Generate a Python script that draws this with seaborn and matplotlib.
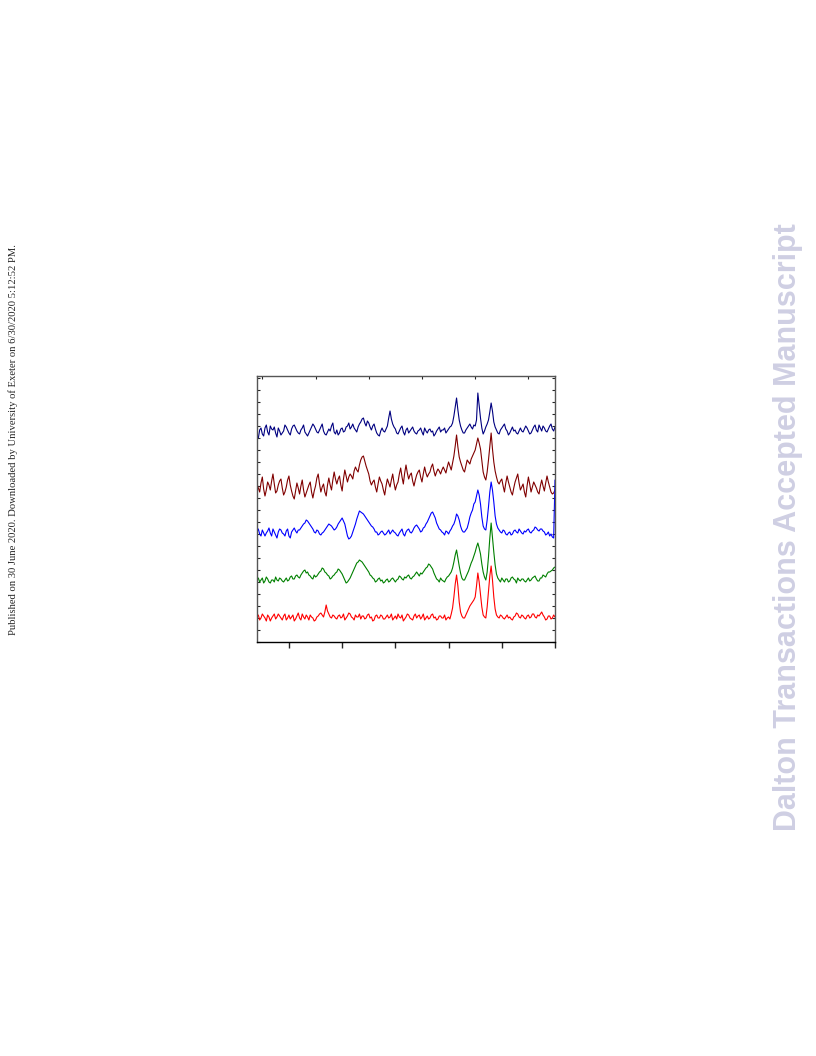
import numpy as np
import pandas as pd
import matplotlib
matplotlib.use("Agg")
import matplotlib.pyplot as plt
from matplotlib.ticker import MultipleLocator
import seaborn as sns

# x axis (2theta-like), sampled every 0.25 from 4 to 60
two_theta = np.arange(4.0, 60.001, 0.25)

# stacked traces, heights (top trace first)
navy = [206, 204, 212, 214, 208, 206, 214, 217, 210, 207, 216, 213, 212, 215, 209, 205, 214, 211, 207, 209,
        211, 217, 215, 212, 209, 207, 213, 216, 217, 214, 211, 209, 208, 212, 214, 217, 210, 208, 206, 209,
        212, 215, 218, 216, 213, 210, 209, 212, 215, 218, 211, 208, 207, 210, 213, 211, 216, 219, 210, 208,
        212, 207, 209, 213, 214, 210, 211, 215, 216, 219, 213, 215, 218, 214, 212, 210, 215, 218, 220, 223,
        224, 219, 216, 221, 219, 215, 212, 216, 218, 213, 209, 207, 206, 211, 214, 211, 210, 213, 216, 224,
        231, 223, 218, 215, 213, 209, 208, 211, 214, 216, 210, 207, 212, 214, 209, 211, 213, 215, 211, 209,
        208, 211, 212, 214, 210, 207, 214, 211, 209, 212, 213, 210, 211, 206, 208, 211, 213, 215, 210, 212,
        212, 214, 209, 211, 213, 215, 216, 219, 226, 235, 244, 232, 222, 216, 212, 209, 209, 212, 214, 216,
        218, 215, 213, 217, 216, 222, 249, 236, 224, 214, 208, 211, 215, 218, 222, 230, 239, 231, 220, 215,
        212, 209, 208, 212, 214, 216, 218, 213, 211, 207, 209, 212, 215, 211, 212, 209, 208, 211, 214, 211,
        210, 213, 216, 214, 211, 208, 209, 212, 215, 217, 212, 210, 217, 214, 211, 216, 214, 211, 210, 213,
        216, 218, 213, 211, 215]
darkred = [158, 154, 150, 159, 165, 153, 146, 152, 160, 157, 152, 161, 168, 158, 149, 151, 157, 161, 163, 154,
           147, 150, 155, 162, 166, 157, 151, 146, 143, 151, 159, 154, 148, 156, 162, 152, 145, 149, 153, 157,
           160, 150, 144, 151, 156, 164, 168, 158, 150, 155, 158, 150, 146, 157, 164, 157, 152, 162, 170, 163,
           158, 163, 166, 157, 151, 163, 172, 166, 160, 165, 168, 166, 163, 171, 175, 172, 170, 177, 182, 185,
           186, 181, 176, 172, 168, 161, 157, 160, 162, 155, 150, 158, 165, 161, 158, 152, 147, 156, 163, 159,
           155, 162, 168, 159, 152, 157, 160, 168, 174, 165, 158, 169, 177, 169, 163, 167, 169, 161, 156, 162,
           167, 170, 172, 165, 160, 168, 175, 169, 165, 168, 170, 175, 178, 171, 166, 170, 173, 171, 168, 172,
           175, 172, 169, 175, 180, 176, 172, 179, 186, 196, 207, 195, 185, 180, 176, 172, 170, 176, 182, 180,
           178, 183, 186, 189, 192, 198, 204, 199, 193, 181, 170, 165, 162, 170, 182, 196, 209, 193, 180, 171,
           165, 160, 158, 161, 163, 156, 150, 159, 166, 160, 155, 150, 147, 154, 160, 164, 168, 159, 152, 155,
           158, 150, 145, 156, 165, 158, 150, 155, 160, 157, 154, 150, 148, 156, 162, 156, 151, 159, 166, 160,
           155, 150, 148, 149, 152]
blue = [110, 113, 108, 106, 112, 109, 106, 109, 111, 114, 109, 106, 113, 110, 107, 104, 110, 113, 112, 109,
        108, 106, 111, 113, 106, 104, 110, 112, 114, 111, 109, 112, 112, 114, 116, 118, 119, 122, 121, 119,
        117, 115, 113, 110, 109, 112, 111, 108, 107, 109, 110, 112, 114, 116, 118, 117, 116, 114, 112, 113,
        115, 118, 120, 122, 124, 121, 118, 112, 106, 103, 104, 106, 110, 114, 118, 123, 127, 131, 130, 129,
        128, 126, 124, 122, 120, 118, 116, 115, 113, 110, 110, 107, 108, 110, 111, 109, 107, 108, 110, 112,
        108, 110, 112, 110, 109, 107, 106, 109, 111, 113, 108, 106, 110, 112, 113, 110, 109, 111, 114, 116,
        117, 115, 113, 110, 111, 114, 115, 118, 120, 123, 126, 129, 130, 127, 124, 119, 116, 113, 112, 110,
        109, 107, 111, 110, 108, 111, 113, 116, 118, 122, 128, 126, 122, 116, 112, 110, 110, 112, 114, 119,
        125, 129, 132, 138, 140, 146, 152, 147, 138, 125, 116, 113, 112, 122, 135, 150, 160, 152, 140, 126,
        118, 114, 112, 110, 109, 112, 111, 108, 107, 109, 110, 107, 108, 111, 112, 110, 109, 113, 111, 109,
        108, 111, 110, 112, 113, 110, 109, 111, 112, 115, 114, 112, 111, 113, 113, 111, 110, 107, 108, 110,
        106, 108, 105, 104, 162]
green = [62, 64, 60, 62, 64, 59, 61, 65, 63, 60, 59, 62, 62, 60, 65, 62, 61, 64, 63, 61,
         60, 62, 64, 61, 62, 65, 66, 63, 63, 66, 67, 65, 64, 67, 69, 71, 72, 69, 70, 67,
         66, 64, 63, 67, 65, 66, 68, 70, 71, 74, 73, 70, 69, 67, 66, 63, 64, 66, 67, 69,
         70, 73, 72, 70, 68, 65, 62, 59, 60, 62, 64, 67, 70, 73, 76, 79, 80, 82, 81, 80,
         78, 76, 74, 72, 70, 67, 66, 64, 63, 60, 61, 63, 64, 61, 62, 59, 60, 62, 63, 60,
         61, 63, 64, 62, 60, 62, 63, 66, 65, 63, 62, 65, 64, 66, 67, 64, 63, 65, 66, 68,
         70, 68, 66, 69, 68, 70, 72, 74, 75, 78, 77, 75, 73, 69, 66, 63, 62, 60, 64, 62,
         61, 60, 63, 65, 66, 68, 70, 74, 80, 87, 92, 84, 76, 69, 64, 62, 62, 65, 68, 71,
         75, 79, 82, 86, 90, 95, 99, 94, 88, 78, 70, 65, 62, 70, 85, 104, 119, 104, 90, 77,
         68, 64, 62, 60, 64, 62, 60, 63, 63, 60, 61, 64, 65, 63, 62, 59, 64, 62, 61, 63,
         63, 61, 60, 62, 64, 61, 62, 64, 65, 66, 63, 61, 61, 64, 64, 67, 66, 65, 68, 70,
         70, 71, 72, 74, 75]
red = [25, 27, 22, 24, 28, 26, 24, 21, 27, 25, 21, 24, 26, 28, 23, 25, 28, 26, 24, 22,
       26, 28, 22, 24, 27, 23, 25, 27, 21, 23, 26, 29, 24, 22, 28, 25, 23, 27, 25, 22,
       27, 25, 24, 21, 22, 25, 26, 28, 29, 27, 25, 30, 37, 31, 28, 25, 24, 27, 26, 24,
       23, 26, 27, 24, 25, 28, 22, 24, 26, 29, 28, 25, 24, 22, 27, 25, 25, 28, 23, 26,
       26, 23, 24, 27, 28, 24, 25, 21, 22, 26, 27, 24, 24, 27, 26, 23, 23, 25, 27, 24,
       25, 28, 22, 24, 26, 23, 28, 25, 24, 27, 21, 23, 25, 28, 27, 24, 23, 22, 26, 28,
       24, 26, 27, 23, 25, 28, 22, 24, 26, 23, 24, 27, 28, 24, 25, 22, 23, 26, 26, 24,
       24, 27, 22, 24, 25, 23, 28, 34, 45, 58, 67, 56, 40, 30, 26, 24, 24, 27, 30, 33,
       36, 38, 40, 42, 45, 56, 69, 60, 48, 35, 27, 25, 24, 35, 50, 66, 76, 62, 45, 33,
       27, 25, 24, 27, 26, 24, 23, 25, 27, 24, 25, 23, 22, 25, 26, 29, 28, 25, 24, 27,
       26, 24, 23, 26, 27, 24, 25, 28, 28, 25, 24, 27, 26, 28, 30, 27, 25, 22, 23, 26,
       26, 23, 24, 27, 25]

traces = {"a": navy, "b": darkred, "c": blue, "d": green, "e": red}
colors = {"a": "#000080", "b": "#800000", "c": "#0000ff", "d": "#008000", "e": "#ff0000"}

df = pd.concat([pd.DataFrame({"x": two_theta, "y": v, "trace": k}) for k, v in traces.items()])

sns.set_theme(style="ticks")
plt.rcParams["font.family"] = ["DejaVu Sans"]

fig = plt.figure(figsize=(8.16, 10.56), dpi=100)
ax = fig.add_axes([257 / 816, 1 - 642 / 1056, 298 / 816, 266 / 1056])

for k in traces:
    sns.lineplot(data=df[df.trace == k], x="x", y="y", color=colors[k], lw=0.8,
                 estimator=None, sort=False, ax=ax, legend=False)

ax.set_xlim(4, 60)
ax.set_ylim(0, 266)
ax.set_xlabel("")
ax.set_ylabel("")
ax.xaxis.set_major_locator(MultipleLocator(10))
ax.xaxis.set_minor_locator(MultipleLocator(5))
ax.yaxis.set_major_locator(MultipleLocator(12))
ax.tick_params(axis="x", which="major", direction="out", length=4, width=1,
               labelbottom=False, top=False)
ax.tick_params(axis="x", which="minor", direction="in", length=2, width=0.8,
               bottom=False, top=True)
ax.tick_params(axis="y", which="major", direction="in", length=2, width=0.8,
               left=True, right=True, labelleft=False)
for s in ax.spines.values():
    s.set_visible(True)
    s.set_color("#555555")
    s.set_linewidth(1.0)
ax.spines["bottom"].set_color("black")

fig.text(13 / 816, 1 - 440 / 1056,
         "Published on 30 June 2020. Downloaded by University of Exeter on 6/30/2020 5:12:52 PM.",
         rotation=90, ha="center", va="center", fontsize=7.7, family="Liberation Serif")
fig.text(788 / 816, 1 - 527 / 1056, "Dalton Transactions Accepted Manuscript",
         rotation=90, ha="center", va="center", fontsize=22, fontweight="bold",
         family="Liberation Sans", color="#cfcfe3")

fig.savefig("out.png", dpi=100)
